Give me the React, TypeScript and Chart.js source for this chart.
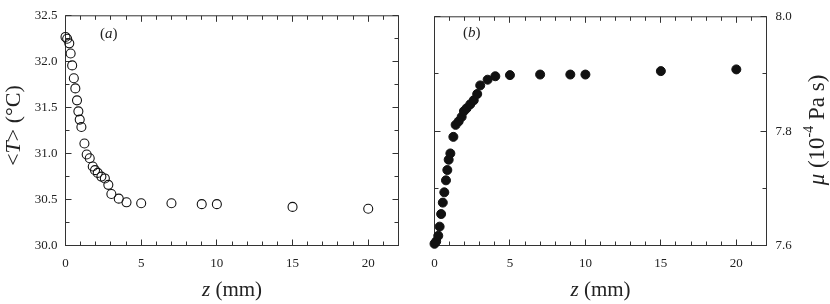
import React, { useEffect, useRef } from "react";
import { Chart, registerables } from "chart.js";

Chart.register(...registerables);

// ---- data ----
const zPositions = [
  0, 0.11, 0.25, 0.34, 0.44, 0.55, 0.65, 0.76, 0.85, 0.94, 1.05, 1.25, 1.4, 1.6, 1.8, 1.95,
  2.13, 2.37, 2.6, 2.83, 3.03, 3.52, 4.03, 5, 7, 9, 10, 15, 20,
];
const meanTemperature = [
  32.27, 32.25, 32.2, 32.09, 31.96, 31.82, 31.71, 31.58, 31.46, 31.37, 31.29, 31.11, 30.99,
  30.95, 30.86, 30.82, 30.79, 30.75, 30.73, 30.66, 30.56, 30.51, 30.47, 30.46, 30.46, 30.45,
  30.45, 30.42, 30.4,
];
const viscosity = [
  7.603, 7.607, 7.617, 7.633, 7.655, 7.675, 7.693, 7.714, 7.732, 7.75, 7.761, 7.79, 7.811,
  7.817, 7.825, 7.835, 7.84, 7.847, 7.854, 7.865, 7.88, 7.89, 7.896, 7.898, 7.899, 7.899,
  7.899, 7.905, 7.908,
];
const zTicks = [0, 5, 10, 15, 20];
const temperatureTicks = [30.0, 30.5, 31.0, 31.5, 32.0, 32.5];
const viscosityTicks = [7.6, 7.8, 8.0];

const SERIF = "'Liberation Serif', 'Times New Roman', serif";
const INK = "#222";

type Part = { t: string; it?: boolean; sup?: boolean };

function drawRich(
  ctx: CanvasRenderingContext2D,
  parts: Part[],
  cx: number,
  cy: number,
  size: number,
  rot: number
) {
  ctx.save();
  ctx.translate(cx, cy);
  ctx.rotate(rot);
  const fontFor = (p: Part) =>
    `${p.it ? "italic " : ""}${p.sup ? Math.round(size * 0.62) : size}px ${SERIF}`;
  const widths = parts.map((p) => {
    ctx.font = fontFor(p);
    return ctx.measureText(p.t).width;
  });
  const total = widths.reduce((a, b) => a + b, 0);
  let x = -total / 2;
  ctx.textBaseline = "middle";
  ctx.textAlign = "left";
  ctx.fillStyle = INK;
  parts.forEach((p, i) => {
    ctx.font = fontFor(p);
    ctx.fillText(p.t, x, p.sup ? -size * 0.36 : 0);
    x += widths[i];
  });
  ctx.restore();
}

type PanelSpec = {
  id: string;
  yMin: number;
  yMax: number;
  yMajor: number;
  yMinor: number;
  yTicks: number[];
  yValues: number[];
  yPosition: "left" | "right";
  filled: boolean;
  panelLabel: Part[];
  panelLabelPos: [number, number];
  yTitle: Part[];
  yTitlePos: [number, number];
  yTitleSize: number;
  padding: { left: number; right: number; top: number; bottom: number };
  yWidth: number;
};

const X_MIN = 0;
const X_MAX = 22;
const X_MAJOR = 5;
const X_MINOR = 1;

function crisp(v: number) {
  return Math.round(v - 0.5) + 0.5;
}

function makeFramePlugin(spec: PanelSpec) {
  return {
    id: "frameTicks" + spec.id,
    beforeDatasetsDraw(chart: any) {
      const ctx: CanvasRenderingContext2D = chart.ctx;
      const ca = chart.chartArea;
      const xs = chart.scales.x;
      const ys = chart.scales.y;
      ctx.save();
      ctx.strokeStyle = "#333";
      ctx.lineWidth = 1;
      ctx.strokeRect(ca.left, ca.top, ca.right - ca.left, ca.bottom - ca.top);
      ctx.beginPath();
      const nx = Math.round((X_MAX - X_MIN) / X_MINOR);
      for (let i = 0; i <= nx; i++) {
        const v = X_MIN + i * X_MINOR;
        const major = Math.abs(v / X_MAJOR - Math.round(v / X_MAJOR)) < 1e-6;
        const L = major ? 6 : 4;
        const px = crisp(xs.getPixelForValue(v));
        ctx.moveTo(px, ca.bottom);
        ctx.lineTo(px, ca.bottom - L);
        ctx.moveTo(px, ca.top);
        ctx.lineTo(px, ca.top + L);
      }
      const ny = Math.round((spec.yMax - spec.yMin) / spec.yMinor);
      for (let i = 0; i <= ny; i++) {
        const v = spec.yMin + i * spec.yMinor;
        const r = (v - spec.yMin) / spec.yMajor;
        const major = Math.abs(r - Math.round(r)) < 1e-6;
        const L = major ? 6 : 4;
        const py = crisp(ys.getPixelForValue(v));
        ctx.moveTo(ca.left, py);
        ctx.lineTo(ca.left + L, py);
        ctx.moveTo(ca.right, py);
        ctx.lineTo(ca.right - L, py);
      }
      ctx.stroke();
      ctx.restore();
    },
    afterDraw(chart: any) {
      const ctx: CanvasRenderingContext2D = chart.ctx;
      const ca = chart.chartArea;
      // x title
      drawRich(
        ctx,
        [{ t: "z", it: true }, { t: " (mm)" }],
        (ca.left + ca.right) / 2,
        290,
        21,
        0
      );
      // y title
      drawRich(ctx, spec.yTitle, spec.yTitlePos[0], spec.yTitlePos[1], spec.yTitleSize, -Math.PI / 2);
      // panel label
      ctx.save();
      const parts = spec.panelLabel;
      let x = spec.panelLabelPos[0];
      ctx.textBaseline = "middle";
      ctx.textAlign = "left";
      ctx.fillStyle = INK;
      parts.forEach((p) => {
        ctx.font = `${p.it ? "italic " : ""}15px ${SERIF}`;
        ctx.fillText(p.t, x, spec.panelLabelPos[1]);
        x += ctx.measureText(p.t).width;
      });
      ctx.restore();
    },
  };
}

function makeConfig(spec: PanelSpec): any {
  const points = zPositions.map((z, i) => ({ x: z, y: spec.yValues[i] }));
  return {
    type: "scatter",
    data: {
      datasets: [
        {
          data: points,
          showLine: false,
          pointStyle: "circle",
          pointRadius: 4.5,
          pointBorderWidth: spec.filled ? 1 : 1.1,
          pointBackgroundColor: spec.filled ? "#111" : "rgba(255,255,255,0)",
          pointBorderColor: "#111",
          clip: false,
        },
      ],
    },
    options: {
      responsive: false,
      animation: false,
      devicePixelRatio: 1,
      layout: { padding: spec.padding },
      plugins: {
        legend: { display: false },
        tooltip: { enabled: false },
        title: { display: false },
      },
      scales: {
        x: {
          type: "linear",
          position: "bottom",
          min: X_MIN,
          max: X_MAX,
          grid: { display: false, drawTicks: false },
          border: { display: false },
          ticks: {
            padding: 10,
            color: INK,
            font: { family: SERIF, size: 13 },
            maxRotation: 0,
            autoSkip: false,
            callback: (v: any) => String(v),
          },
          afterBuildTicks: (s: any) => {
            s.ticks = zTicks.map((value) => ({ value }));
          },
          afterFit: (s: any) => {
            s.height = 58.5;
          },
        },
        y: {
          type: "linear",
          position: spec.yPosition,
          min: spec.yMin,
          max: spec.yMax,
          grid: { display: false, drawTicks: false },
          border: { display: false },
          ticks: {
            padding: spec.yPosition === "left" ? 8 : 9,
            color: INK,
            font: { family: SERIF, size: 13 },
            autoSkip: false,
            callback: (v: any) => Number(v).toFixed(1),
          },
          afterBuildTicks: (s: any) => {
            s.ticks = spec.yTicks.map((value) => ({ value }));
          },
          afterFit: (s: any) => {
            s.width = spec.yWidth;
          },
        },
      },
    },
    plugins: [makeFramePlugin(spec)],
  };
}

const panelA: PanelSpec = {
  id: "a",
  yMin: 30.0,
  yMax: 32.5,
  yMajor: 0.5,
  yMinor: 0.25,
  yTicks: temperatureTicks,
  yValues: meanTemperature,
  yPosition: "left",
  filled: false,
  panelLabel: [{ t: "(" }, { t: "a", it: true }, { t: ")" }],
  panelLabelPos: [100, 34],
  yTitle: [{ t: "<" }, { t: "T", it: true }, { t: "> (°C)" }],
  yTitlePos: [14, 125.5],
  yTitleSize: 22,
  padding: { left: 0, right: 16.5, top: 5.5, bottom: 0 },
  yWidth: 65.5,
};

const panelB: PanelSpec = {
  id: "b",
  yMin: 7.6,
  yMax: 8.0,
  yMajor: 0.2,
  yMinor: 0.1,
  yTicks: viscosityTicks,
  yValues: viscosity,
  yPosition: "right",
  filled: true,
  panelLabel: [{ t: "(" }, { t: "b", it: true }, { t: ")" }],
  panelLabelPos: [48, 33],
  yTitle: [{ t: "μ", it: true }, { t: " (10" }, { t: "-4", sup: true }, { t: " Pa s)" }],
  yTitlePos: [403, 130],
  yTitleSize: 23,
  padding: { left: 19.5, right: 0, top: 5.5, bottom: 0 },
  yWidth: 63.5,
};

function Panel({ spec, left }: { spec: PanelSpec; left: number }) {
  const ref = useRef<HTMLCanvasElement | null>(null);
  useEffect(() => {
    if (!ref.current) return;
    const chart = new Chart(ref.current, makeConfig(spec));
    return () => chart.destroy();
  }, [spec]);
  return (
    <div style={{ position: "absolute", left, top: 0, width: 415, height: 304 }}>
      <canvas ref={ref} width={415} height={304} style={{ width: 415, height: 304, display: "block" }} />
    </div>
  );
}

export default function App() {
  return (
    <div
      style={{
        position: "absolute",
        left: 0,
        top: 0,
        width: 830,
        height: 304,
        background: "#fff",
        overflow: "hidden",
      }}
    >
      <Panel spec={panelA} left={0} />
      <Panel spec={panelB} left={415} />
    </div>
  );
}
